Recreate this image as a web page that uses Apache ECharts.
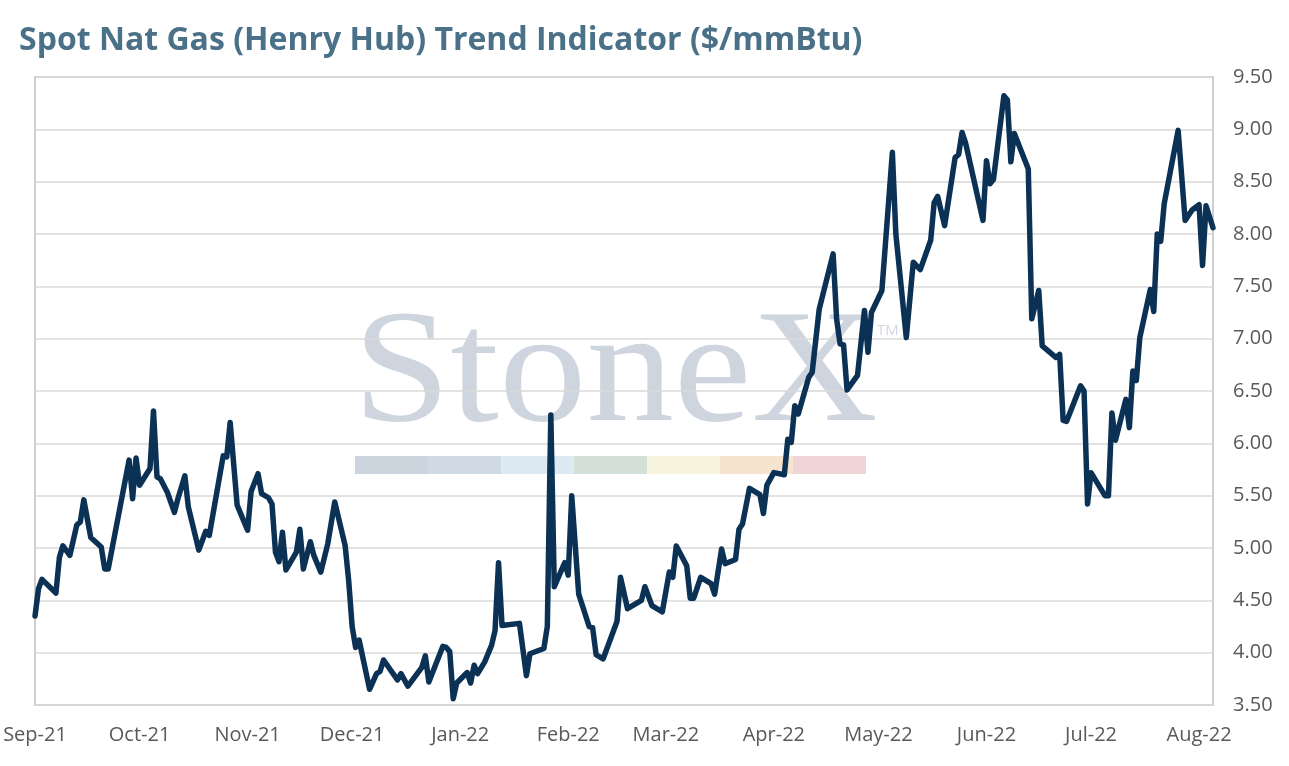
<!DOCTYPE html>
<html>
<head>
<meta charset="utf-8">
<script src="https://cdn.jsdelivr.net/npm/echarts@6/dist/echarts.min.js"></script>
<style>
  html, body { margin: 0; padding: 0; background: #fff; }
  #chart { width: 1289px; height: 766px; }
</style>
</head>
<body>
<div id="chart"></div>
<script>
// spot price turning points
const dates = [
  '2021-09-01','2021-09-02','2021-09-03','2021-09-07','2021-09-08','2021-09-09','2021-09-11','2021-09-13','2021-09-14','2021-09-15',
  '2021-09-17','2021-09-20','2021-09-21','2021-09-22','2021-09-28','2021-09-29','2021-09-30','2021-10-01','2021-10-04','2021-10-05',
  '2021-10-06','2021-10-07','2021-10-09','2021-10-11','2021-10-12','2021-10-14','2021-10-15','2021-10-18','2021-10-20','2021-10-21',
  '2021-10-25','2021-10-26','2021-10-27','2021-10-29','2021-11-01','2021-11-02','2021-11-04','2021-11-05','2021-11-07','2021-11-08',
  '2021-11-09','2021-11-10','2021-11-11','2021-11-12','2021-11-15','2021-11-16','2021-11-17','2021-11-19','2021-11-20','2021-11-22',
  '2021-11-24','2021-11-26','2021-11-29','2021-11-30','2021-12-01','2021-12-02','2021-12-03','2021-12-06','2021-12-08','2021-12-09',
  '2021-12-10','2021-12-14','2021-12-15','2021-12-17','2021-12-21','2021-12-22','2021-12-23','2021-12-27','2021-12-28','2021-12-29',
  '2021-12-30','2021-12-31','2022-01-03','2022-01-04','2022-01-05','2022-01-06','2022-01-08','2022-01-10','2022-01-11','2022-01-12',
  '2022-01-13','2022-01-18','2022-01-20','2022-01-21','2022-01-25','2022-01-26','2022-01-27','2022-01-28','2022-01-31','2022-02-01',
  '2022-02-02','2022-02-04','2022-02-07','2022-02-08','2022-02-09','2022-02-11','2022-02-15','2022-02-16','2022-02-18','2022-02-22',
  '2022-02-23','2022-02-25','2022-02-28','2022-03-02','2022-03-03','2022-03-04','2022-03-07','2022-03-08','2022-03-09','2022-03-11',
  '2022-03-14','2022-03-15','2022-03-17','2022-03-18','2022-03-21','2022-03-22','2022-03-23','2022-03-25','2022-03-28','2022-03-29',
  '2022-03-30','2022-04-01','2022-04-04','2022-04-05','2022-04-06','2022-04-07','2022-04-08','2022-04-11','2022-04-12','2022-04-14',
  '2022-04-18','2022-04-19','2022-04-20','2022-04-21','2022-04-22','2022-04-25','2022-04-27','2022-04-28','2022-04-29','2022-05-02',
  '2022-05-05','2022-05-06','2022-05-09','2022-05-11','2022-05-13','2022-05-16','2022-05-17','2022-05-18','2022-05-20','2022-05-23',
  '2022-05-24','2022-05-25','2022-05-26','2022-05-31','2022-06-01','2022-06-02','2022-06-03','2022-06-06','2022-06-07','2022-06-08',
  '2022-06-09','2022-06-13','2022-06-14','2022-06-16','2022-06-17','2022-06-21','2022-06-22','2022-06-23','2022-06-24','2022-06-28',
  '2022-06-29','2022-06-30','2022-07-01','2022-07-05','2022-07-06','2022-07-07','2022-07-08','2022-07-11','2022-07-12','2022-07-13',
  '2022-07-14','2022-07-15','2022-07-18','2022-07-19','2022-07-20','2022-07-21','2022-07-22','2022-07-26','2022-07-28','2022-07-30',
  '2022-08-01','2022-08-02','2022-08-03','2022-08-05'
];
const prices = [
  4.35,4.61,4.70,4.57,4.91,5.02,4.93,5.22,5.25,5.46,
  5.10,5.01,4.80,4.80,5.84,5.47,5.86,5.60,5.76,6.31,
  5.68,5.66,5.53,5.34,5.47,5.69,5.39,4.98,5.16,5.12,
  5.88,5.87,6.20,5.41,5.17,5.54,5.71,5.52,5.48,5.42,
  4.96,4.87,5.15,4.79,4.96,5.18,4.80,5.06,4.93,4.77,
  5.04,5.44,5.02,4.69,4.25,4.05,4.12,3.65,3.80,3.82,
  3.93,3.74,3.80,3.68,3.86,3.97,3.72,4.06,4.05,4.01,
  3.56,3.71,3.81,3.71,3.88,3.80,3.91,4.07,4.21,4.86,
  4.26,4.28,3.78,3.99,4.04,4.25,6.27,4.63,4.86,4.74,
  5.50,4.56,4.25,4.24,3.98,3.94,4.30,4.72,4.42,4.50,
  4.63,4.45,4.39,4.77,4.72,5.02,4.83,4.52,4.52,4.72,
  4.66,4.56,4.99,4.85,4.89,5.18,5.23,5.57,5.51,5.33,
  5.60,5.72,5.70,6.04,6.01,6.36,6.28,6.63,6.68,7.28,
  7.81,7.19,6.95,6.94,6.51,6.65,7.27,6.87,7.25,7.46,
  8.78,8.00,7.01,7.73,7.66,7.94,8.30,8.36,8.08,8.73,
  8.76,8.97,8.87,8.13,8.70,8.48,8.52,9.32,9.28,8.69,
  8.96,8.62,7.19,7.46,6.93,6.82,6.85,6.22,6.21,6.55,
  6.50,5.42,5.72,5.50,5.50,6.29,6.03,6.42,6.15,6.69,
  6.60,7.01,7.47,7.26,8.00,7.93,8.29,8.99,8.13,8.23,
  8.28,7.70,8.27,8.06
];
const monthNames = ['Jan','Feb','Mar','Apr','May','Jun','Jul','Aug','Sep','Oct','Nov','Dec'];
const xStart = '2021-09-01';
const xEnd = '2022-08-05';
const yTicks = [3.5, 9.5, 0.5]; // min, max, step
const stripeColors = ['#ccd4de','#d0dae5','#dde9f3','#d3e0d8','#f6f4dc','#f6e4cf','#f0d4d6'];

const chart = echarts.init(document.getElementById('chart'), null, { renderer: 'canvas' });

function toTime(s) {
  const p = s.split('-').map(Number);
  return new Date(p[0], p[1] - 1, p[2]).getTime();
}

const stripes = stripeColors.map((c, i) => ({
  type: 'rect',
  z: -10,
  shape: { x: 355 + i * 73, y: 456, width: 73, height: 18 },
  style: { fill: c }
}));

const option = {
  backgroundColor: '#ffffff',
  animation: false,
  title: {
    text: 'Spot Nat Gas (Henry Hub) Trend Indicator ($/mmBtu)',
    left: 14,
    top: 20,
    textStyle: {
      fontFamily: 'Open Sans',
      fontWeight: 'bold',
      fontSize: 32,
      color: '#4b7189'
    }
  },
  graphic: [
    {
      type: 'text',
      z: -10,
      x: 353,
      y: 377,
      scaleX: 1.08,
      style: {
        x: 0, y: 0,
        text: 'StoneX',
        font: '162px "Liberation Serif"',
        fill: '#ced5de',
        textVerticalAlign: 'middle'
      }
    },
    {
      type: 'text',
      z: -10,
      style: {
        x: 877, y: 331,
        text: 'TM',
        font: '15px "Open Sans"',
        fill: '#d3d9e1',
        textVerticalAlign: 'middle'
      }
    }
  ].concat(stripes),
  grid: {
    left: 35,
    right: 76,
    top: 77,
    bottom: 61,
    show: true,
    borderColor: '#bfbfbf',
    borderWidth: 1.5,
    backgroundColor: 'transparent'
  },
  xAxis: {
    type: 'time',
    min: toTime(xStart),
    max: toTime(xEnd),
    minInterval: 28 * 24 * 3600 * 1000,
    maxInterval: 31 * 24 * 3600 * 1000,
    splitNumber: 12,
    axisLine: { show: false },
    axisTick: { show: false },
    splitLine: { show: false },
    axisLabel: {
      margin: 20,
      fontFamily: 'Open Sans',
      fontSize: 20,
      color: '#595959',
      hideOverlap: false,
      formatter: function (val) {
        const d = new Date(val);
        return monthNames[d.getMonth()] + '-' + String(d.getFullYear()).slice(2);
      }
    }
  },
  yAxis: {
    type: 'value',
    position: 'right',
    min: yTicks[0],
    max: yTicks[1],
    interval: yTicks[2],
    axisLine: { show: false },
    axisTick: { show: false },
    splitLine: { lineStyle: { color: '#d9d9d9', width: 1.5 } },
    axisLabel: {
      margin: 20,
      fontFamily: 'Open Sans',
      fontSize: 20,
      color: '#595959',
      formatter: function (v) { return v.toFixed(2); }
    }
  },
  series: [{
    type: 'line',
    data: dates.map((d, i) => [toTime(d), prices[i]]),
    showSymbol: false,
    smooth: false,
    lineStyle: { color: '#0b3155', width: 5.5, join: 'round', cap: 'round' },
    z: 5
  }]
};

chart.setOption(option);
</script>
</body>
</html>
